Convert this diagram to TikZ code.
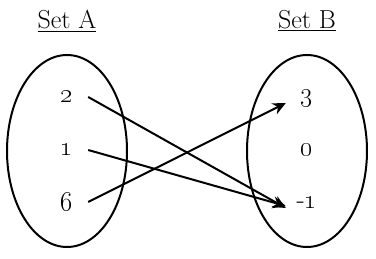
\RequirePackage{fix-cm}
\documentclass[tikz,border=0pt]{standalone}
\usepackage{tikz}
\usetikzlibrary{arrows.meta, shapes.geometric}

\begin{document}
\begin{tikzpicture}[
        x=1pt, y=-1pt,
        title/.style={font=\fontsize{26}{30}\selectfont},
        elem/.style={font=\fontsize{27}{30}\selectfont, minimum width=42pt, inner sep=0pt},
        setshape/.style={ellipse, draw=black, line width=2pt, minimum width=120pt, minimum height=192pt},
        mapto/.style={line width=2pt, -{Stealth[length=13pt, width=12pt]}}
    ]
        \useasboundingbox (0,0) rectangle (376,259);

        % Titles
        \node[title] (seta) at (67,21) {\underline{Set A}};
        \node[title] (setb) at (307,21) {\underline{Set B}};

        % Sets
        \node[setshape] (ovala) at (67,151) {};
        \node[setshape] (ovalb) at (307,151) {};

        % Elements of A
        \node[elem] (a2) at (67,97) {\oldstylenums{2}};
        \node[elem] (a1) at (67,150) {\oldstylenums{1}};
        \node[elem] (a6) at (67,202) {\oldstylenums{6}};

        % Elements of B
        \node[elem] (b3) at (307,98) {\oldstylenums{3}};
        \node[elem] (b0) at (307,150) {\oldstylenums{0}};
        \node[elem] (bm1) at (307,203) {-\oldstylenums{1}};

        % Mapping
        \draw[mapto] (a2.east) -- ([yshift=-5pt]bm1.west);
        \draw[mapto] (a1.east) -- ([yshift=-3pt]bm1.west);
        \draw[mapto] (a6.east) -- ([yshift=-5pt]b3.west);
    \end{tikzpicture}
\end{document}
